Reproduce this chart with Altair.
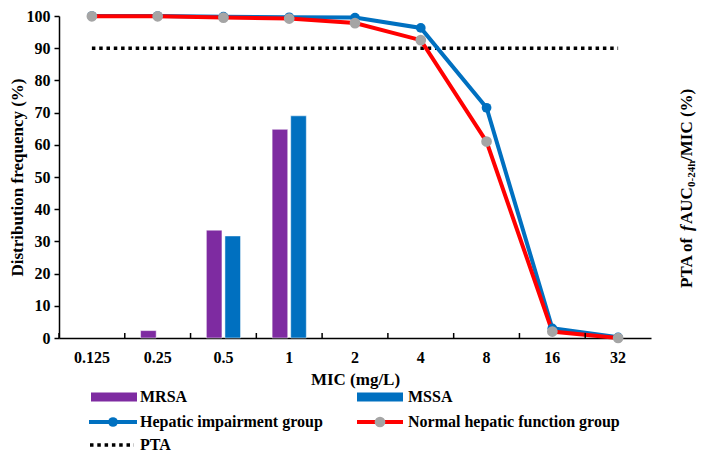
import altair as alt
import pandas as pd

# ---------------- data ----------------
mic = ["0.125", "0.25", "0.5", "1", "2", "4", "8", "16", "32"]
mrsa = [0, 2.3, 33.5, 64.8, 0, 0, 0, 0, 0]
mssa = [0, 0, 31.7, 69.0, 0, 0, 0, 0, 0]
hepatic = [100, 100, 99.8, 99.6, 99.5, 96.3, 71.5, 3.0, 0.2]
normal = [99.9, 99.9, 99.5, 99.2, 97.8, 92.5, 61.0, 2.0, 0.0]
pta = [90, 90, 90, 90, 90, 90, 90, 90, 90]
groups = ["MRSA", "MSSA"]
legend_labels = ["MRSA", "MSSA", "Hepatic impairment group",
                 "Normal hepatic function group", "PTA"]
right_title_parts = ["PTA of ", "f", "AUC", "0-24h", "/MIC (%)"]

# ---------------- style ----------------
FONT = "Liberation Serif"
W, H = 592, 322
PURPLE = "#7E2BA1"
BLUE = "#0070C0"
RED = "#FF0000"
GRAY = "#A5A5A5"

bars_df = pd.DataFrame({
    "mic": mic * 2,
    "group": [groups[0]] * len(mic) + [groups[1]] * len(mic),
    "value": mrsa + mssa,
})
lines_df = pd.DataFrame({"mic": mic, "hepatic": hepatic, "normal": normal, "pta": pta})
one = pd.DataFrame({"k": [0]})

x_axis = alt.Axis(title="MIC (mg/L)", labelAngle=0, tickSize=0, labelPadding=11,
                  titlePadding=6)
xscale = alt.Scale(domain=mic, paddingInner=0, paddingOuter=0)


def xenc(**kw):
    return alt.X("mic:N", sort=mic, scale=xscale, axis=x_axis, **kw)


bars = alt.Chart(bars_df).transform_filter("datum.value > 0").mark_bar(
    stroke="white", strokeWidth=0.5).encode(
    x=xenc(),
    xOffset=alt.XOffset("group:N", sort=groups,
                        scale=alt.Scale(domain=groups, paddingInner=0.16, paddingOuter=0.85)),
    y=alt.Y("value:Q", scale=alt.Scale(domain=[0, 100]),
            axis=alt.Axis(title="Distribution frequency (%)", values=list(range(0, 101, 10)),
                          tickSize=5, labelPadding=4, titlePadding=0)),
    color=alt.Color("group:N", scale=alt.Scale(domain=groups, range=[PURPLE, BLUE]), legend=None),
)

yr = alt.Scale(domain=[0, 100])
base = alt.Chart(lines_df)
blue_line = base.mark_line(color=BLUE, strokeWidth=4).encode(
    x=xenc(),
    y=alt.Y("hepatic:Q", scale=yr,
            axis=alt.Axis(orient="right", title=None, values=list(range(0, 101, 10)),
                          tickSize=5, labelPadding=4)),
)
blue_pts = base.mark_point(filled=True, color=BLUE, size=95, opacity=1).encode(
    x=xenc(), y=alt.Y("hepatic:Q", scale=yr, axis=None))
red_line = base.mark_line(color=RED, strokeWidth=4).encode(
    x=xenc(), y=alt.Y("normal:Q", scale=yr, axis=None))
gray_pts = base.mark_point(filled=True, color=GRAY, size=115, opacity=1).encode(
    x=xenc(), y=alt.Y("normal:Q", scale=yr, axis=None))
pta_line = base.mark_line(color="black", strokeWidth=3.5, strokeDash=[3.5, 3.8]).encode(
    x=xenc(), y=alt.Y("pta:Q", scale=yr, axis=None))

lines = alt.layer(pta_line, blue_line, red_line, blue_pts, gray_pts)

ticks = alt.Chart(lines_df).mark_rule(color="black", strokeWidth=1.5).encode(
    x=xenc(bandPosition=0), y=alt.value(H - 5), y2=alt.value(H))

# ---------------- legend ----------------
TXT = dict(align="left", baseline="middle", font=FONT, fontSize=16, fontWeight="bold", color="black")
R1, R2, R3 = 381, 406, 429
decor = [
    alt.Chart(one).mark_rect(color=PURPLE).encode(
        x=alt.value(32), x2=alt.value(78), y=alt.value(R1 - 4.5), y2=alt.value(R1 + 4.5)),
    alt.Chart(one).mark_text(**TXT).encode(x=alt.value(81), y=alt.value(R1), text=alt.value(legend_labels[0])),
    alt.Chart(one).mark_rect(color=BLUE).encode(
        x=alt.value(298), x2=alt.value(344), y=alt.value(R1 - 4.5), y2=alt.value(R1 + 4.5)),
    alt.Chart(one).mark_text(**TXT).encode(x=alt.value(349), y=alt.value(R1), text=alt.value(legend_labels[1])),
    alt.Chart(one).mark_rule(color=BLUE, strokeWidth=4).encode(
        x=alt.value(30), x2=alt.value(78), y=alt.value(R2)),
    alt.Chart(one).mark_point(filled=True, color=BLUE, size=95, opacity=1).encode(
        x=alt.value(54), y=alt.value(R2)),
    alt.Chart(one).mark_text(**TXT).encode(x=alt.value(81), y=alt.value(R2), text=alt.value(legend_labels[2])),
    alt.Chart(one).mark_rule(color=RED, strokeWidth=4).encode(
        x=alt.value(298), x2=alt.value(344), y=alt.value(R2)),
    alt.Chart(one).mark_point(filled=True, color=GRAY, size=115, opacity=1).encode(
        x=alt.value(321), y=alt.value(R2)),
    alt.Chart(one).mark_text(**TXT).encode(x=alt.value(349), y=alt.value(R2), text=alt.value(legend_labels[3])),
    alt.Chart(one).mark_rule(color="black", strokeWidth=3.5, strokeDash=[3.5, 3.8]).encode(
        x=alt.value(31), x2=alt.value(75), y=alt.value(R3)),
    alt.Chart(one).mark_text(**TXT).encode(x=alt.value(81), y=alt.value(R3), text=alt.value(legend_labels[4])),
]

# ---------------- right axis title (rich text) ----------------
RT = dict(angle=270, align="left", baseline="middle", font=FONT, fontWeight="bold", color="black")
XT, XS = 628, 633
decor += [
    alt.Chart(one).mark_text(fontSize=17, **RT).encode(
        x=alt.value(XT), y=alt.value(272), text=alt.value(right_title_parts[0])),
    alt.Chart(one).mark_text(fontSize=17, fontStyle="italic", **RT).encode(
        x=alt.value(XT), y=alt.value(215), text=alt.value(right_title_parts[1])),
    alt.Chart(one).mark_text(fontSize=17, **RT).encode(
        x=alt.value(XT), y=alt.value(208), text=alt.value(right_title_parts[2])),
    alt.Chart(one).mark_text(fontSize=11, **RT).encode(
        x=alt.value(XS), y=alt.value(171), text=alt.value(right_title_parts[3])),
    alt.Chart(one).mark_text(fontSize=17, **RT).encode(
        x=alt.value(XT), y=alt.value(145), text=alt.value(right_title_parts[4])),
]

chart = alt.layer(bars, lines, ticks, *decor).resolve_scale(y="independent").properties(
    width=W, height=H,
    autosize=alt.AutoSizeParams(type="none"),
    padding={"left": 51, "top": 8, "right": 47, "bottom": 119},
).configure_view(strokeWidth=0).configure_axis(
    labelFont=FONT, titleFont=FONT, labelFontSize=16, titleFontSize=17,
    labelFontWeight="bold", titleFontWeight="bold", labelColor="black", titleColor="black",
    domainColor="black", tickColor="black", domainWidth=1.5, tickWidth=1.5, grid=False,
)

chart.save("out.html", embed_options={"renderer": "svg", "actions": False})
